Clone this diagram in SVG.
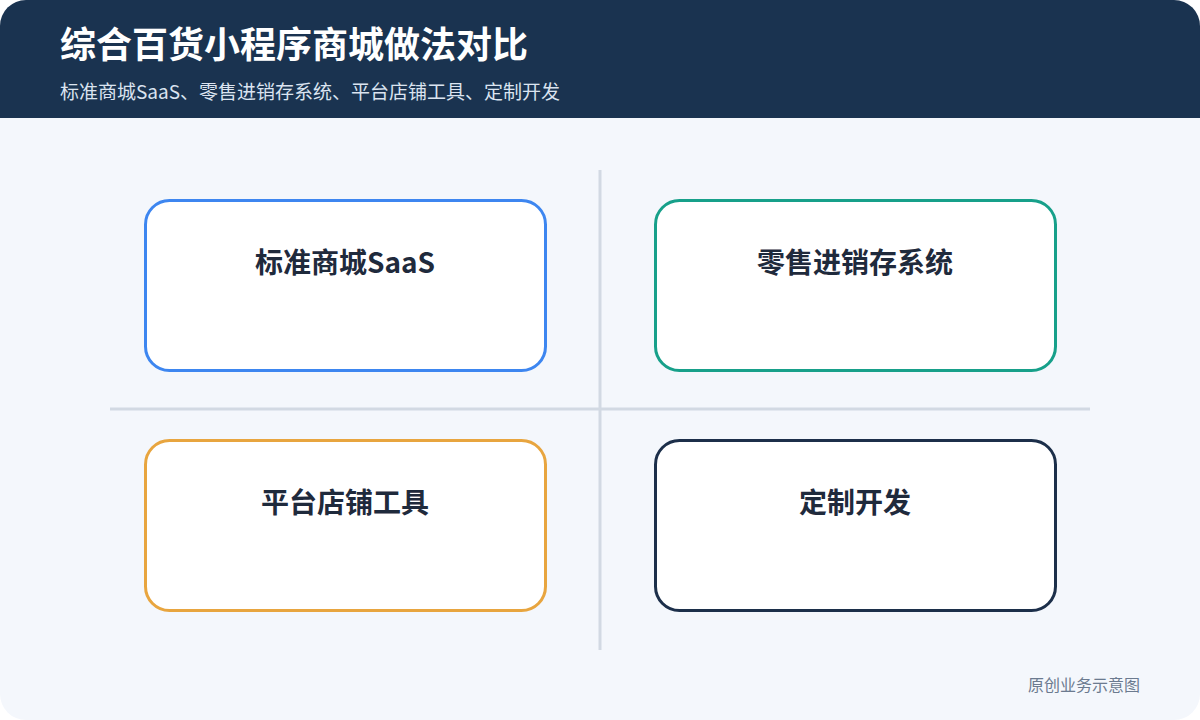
<svg xmlns="http://www.w3.org/2000/svg" width="1200" height="720" viewBox="0 0 1200 720">
<defs>
<style>
.t{font-family:"Noto Sans CJK SC","Noto Sans",sans-serif}
.title{font-size:36px;font-weight:700;fill:#ffffff}
.sub{font-size:19px;fill:#dbe4f0}
.box{fill:#ffffff;stroke-width:3}
.lbl{font-size:28px;font-weight:700;fill:#1f2a3c;text-anchor:middle}
.grid{stroke:#d2d9e3;stroke-width:3}
.foot{font-size:16px;fill:#6b7a8f;text-anchor:end}
</style>
<clipPath id="pg"><rect x="0" y="0" width="1200" height="720" rx="26"/></clipPath>
</defs>
<rect width="1200" height="720" fill="#ffffff"/>
<g clip-path="url(#pg)">
<rect x="0" y="0" width="1200" height="720" fill="#f4f7fc"/>
<rect x="0" y="0" width="1200" height="118" fill="#1a3350"/>
</g>
<text class="t title" x="60" y="58">综合百货小程序商城做法对比</text>
<text class="t sub" x="60" y="99">标准商城SaaS、零售进销存系统、平台店铺工具、定制开发</text>
<g id="connectors">
<line class="grid" x1="600" y1="170" x2="600" y2="650"/>
<line class="grid" x1="110" y1="409" x2="1090" y2="409"/>
</g>
<g id="saas">
<rect class="box" x="145.5" y="200.5" width="400" height="170" rx="24" stroke="#3d86f0"/>
<text class="t lbl" x="345" y="273">标准商城SaaS</text>
</g>
<g id="erp">
<rect class="box" x="655.5" y="200.5" width="400" height="170" rx="24" stroke="#17a08a"/>
<text class="t lbl" x="855" y="273">零售进销存系统</text>
</g>
<g id="platform">
<rect class="box" x="145.5" y="440.5" width="400" height="170" rx="24" stroke="#e8a53f"/>
<text class="t lbl" x="345" y="513">平台店铺工具</text>
</g>
<g id="custom">
<rect class="box" x="655.5" y="440.5" width="400" height="170" rx="24" stroke="#1c2f4a"/>
<text class="t lbl" x="855" y="513">定制开发</text>
</g>
<text class="t foot" x="1140" y="691">原创业务示意图</text>
</svg>
